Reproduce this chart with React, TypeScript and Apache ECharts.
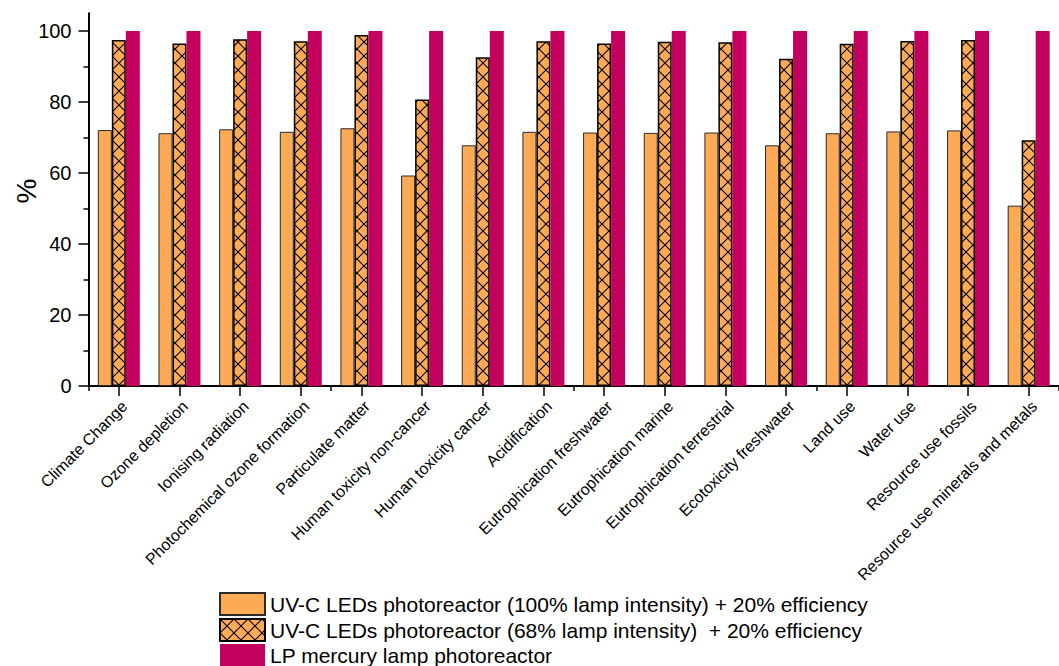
import React, { useEffect, useRef } from "react";
import * as echarts from "echarts";

// Impact categories on the x axis
const categories = [
  "Climate Change",
  "Ozone depletion",
  "Ionising radiation",
  "Photochemical ozone formation",
  "Particulate matter",
  "Human toxicity non-cancer",
  "Human toxicity cancer",
  "Acidification",
  "Eutrophication freshwater",
  "Eutrophication marine",
  "Eutrophication terrestrial",
  "Ecotoxicity freshwater",
  "Land use",
  "Water use",
  "Resource use fossils",
  "Resource use minerals and metals",
];

const seriesNames = [
  "UV-C LEDs photoreactor (100% lamp intensity) + 20% efficiency",
  "UV-C LEDs photoreactor (68% lamp intensity)  + 20% efficiency",
  "LP mercury lamp photoreactor",
];

// Relative impact, % of the LP mercury lamp photoreactor
const led100 = [72.1, 71.2, 72.3, 71.6, 72.6, 59.3, 67.8, 71.6, 71.4, 71.3, 71.4, 67.8, 71.2, 71.7, 72.0, 50.8];
const led68 = [97.5, 96.5, 97.7, 97.1, 98.9, 80.7, 92.6, 97.1, 96.5, 97.0, 96.8, 92.2, 96.4, 97.2, 97.5, 69.2];
const lpMercury = [100, 100, 100, 100, 100, 100, 100, 100, 100, 100, 100, 100, 100, 100, 100, 100];

const yTicks = [0, 20, 40, 60, 80, 100];

const FONT = "'Liberation Sans', Arial, Helvetica, sans-serif";
const ORANGE = "#FDAA57";
const MAGENTA = "#C3005E";

// Cross-hatch tile: orange background with both diagonals in black
function makeHatch(size: number): string {
  const c = document.createElement("canvas");
  c.width = size;
  c.height = size;
  const ctx = c.getContext("2d")!;
  ctx.fillStyle = ORANGE;
  ctx.fillRect(0, 0, size, size);
  ctx.strokeStyle = "#000";
  ctx.lineWidth = 1.1;
  ctx.beginPath();
  ctx.moveTo(0, 0);
  ctx.lineTo(size, size);
  ctx.moveTo(size, 0);
  ctx.lineTo(0, size);
  ctx.stroke();
  return c.toDataURL();
}

export default function App() {
  const ref = useRef<HTMLDivElement>(null);

  useEffect(() => {
    document.body.style.margin = "0";
    if (!ref.current) return;
    const chart = echarts.init(ref.current, null, { renderer: "svg" });

    const tile = 14;
    const hatch: any = {
      image: makeHatch(tile),
      repeat: "repeat",
      imageWidth: tile,
      imageHeight: tile,
    };

    const gridLeft = 88.5;
    const gridWidth = 981;
    const zeroY = 386;
    const unit = 3.55; // px per percent

    const option: any = {
      animation: false,
      backgroundColor: "#fff",
      textStyle: { fontFamily: FONT, color: "#000" },
      grid: [
        // plotting grid, value range 0..105
        { left: gridLeft, width: gridWidth, top: zeroY - 105 * unit, height: 105 * unit },
        // tick grid, value range 0..100
        { left: gridLeft, width: gridWidth, top: zeroY - 100 * unit, height: 100 * unit },
      ],
      xAxis: [
        {
          type: "category",
          gridIndex: 0,
          data: categories,
          position: "bottom",
          axisLine: { show: true, lineStyle: { color: "#000", width: 2 } },
          axisTick: { show: true, alignWithLabel: true, length: 10, lineStyle: { color: "#000", width: 1.5 } },
          axisLabel: {
            interval: 0,
            rotate: 45,
            margin: 12,
            align: "right",
            verticalAlign: "top",
            fontSize: 16,
            color: "#000",
            fontFamily: FONT,
          },
          splitLine: { show: false },
        },
        {
          type: "category",
          gridIndex: 1,
          data: categories,
          position: "bottom",
          axisLine: { show: false },
          axisTick: { show: true, alignWithLabel: false, length: 5, lineStyle: { color: "#000", width: 1.5 } },
          axisLabel: { show: false },
          splitLine: { show: false },
        },
      ],
      yAxis: [
        {
          type: "value",
          gridIndex: 0,
          min: 0,
          max: 105,
          axisLine: { show: true, lineStyle: { color: "#000", width: 2 } },
          axisTick: { show: false },
          axisLabel: { show: false },
          splitLine: { show: false },
        },
        {
          type: "value",
          gridIndex: 1,
          min: yTicks[0],
          max: yTicks[yTicks.length - 1],
          interval: 20,
          axisLine: { show: false },
          axisTick: { show: true, length: 10, lineStyle: { color: "#000", width: 1.5 } },
          minorTick: { show: true, splitNumber: 2, length: 5, lineStyle: { color: "#000", width: 1.5 } },
          axisLabel: { fontSize: 20, margin: 17, color: "#000", fontFamily: FONT },
          splitLine: { show: false },
          minorSplitLine: { show: false },
        },
      ],
      legend: {
        orient: "vertical",
        left: 219,
        top: 592,
        width: 800,
        height: 200,
        padding: 0,
        itemWidth: 45,
        itemHeight: 22,
        itemGap: 2,
        icon: "rect",
        selectedMode: false,
        textStyle: { fontSize: 21, color: "#000", fontFamily: FONT },
        data: seriesNames,
      },
      graphic: [
        {
          type: "text",
          x: 26,
          y: 191,
          rotation: Math.PI / 2,
          style: {
            text: "%",
            fontSize: 28,
            fontFamily: FONT,
            fill: "#000",
            align: "center",
            verticalAlign: "middle",
          },
        },
      ],
      series: [
        {
          name: seriesNames[0],
          type: "bar",
          xAxisIndex: 0,
          yAxisIndex: 0,
          data: led100,
          barWidth: 14,
          barGap: "0%",
          itemStyle: { color: ORANGE, borderColor: "#2b2b2b", borderWidth: 1 },
        },
        {
          name: seriesNames[1],
          type: "bar",
          xAxisIndex: 0,
          yAxisIndex: 0,
          data: led68,
          barWidth: 14,
          barGap: "0%",
          itemStyle: { color: hatch, borderColor: "#000", borderWidth: 1.5 },
        },
        {
          name: seriesNames[2],
          type: "bar",
          xAxisIndex: 0,
          yAxisIndex: 0,
          data: lpMercury,
          barWidth: 14,
          barGap: "0%",
          itemStyle: { color: MAGENTA },
        },
      ],
    };

    chart.setOption(option);
    return () => chart.dispose();
  }, []);

  return <div ref={ref} style={{ width: 1059, height: 666, overflow: "hidden" }} />;
}
